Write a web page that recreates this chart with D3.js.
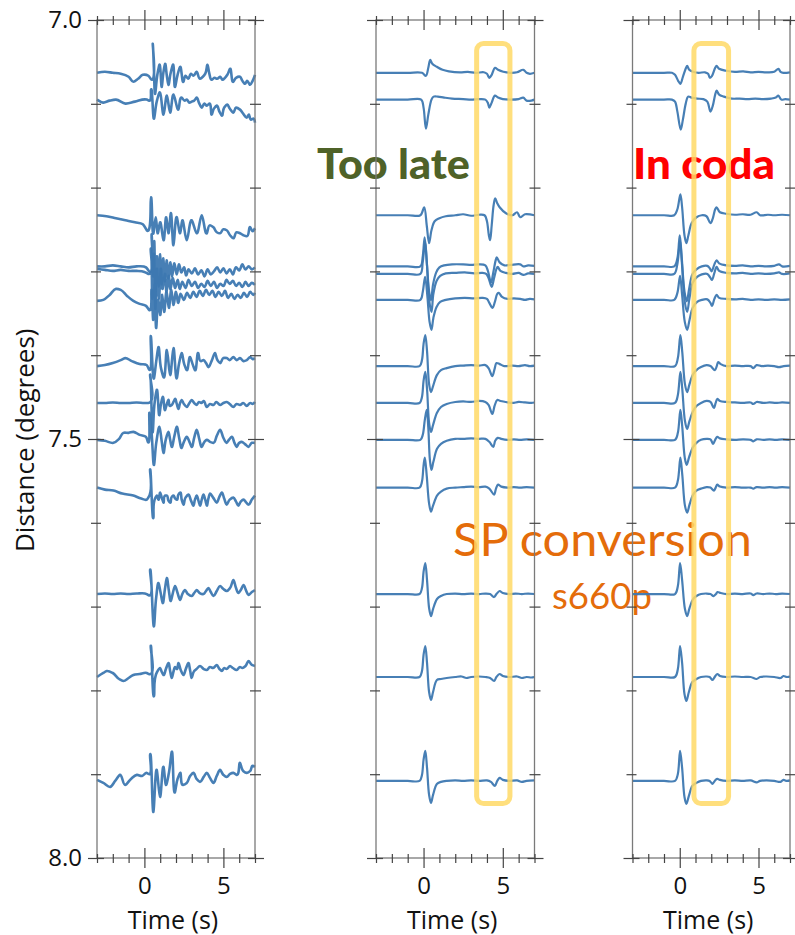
<!DOCTYPE html>
<html><head><meta charset="utf-8">
<script src="https://cdn.jsdelivr.net/npm/d3@7"></script>
<style>body{margin:0;background:#fff}svg{display:block}</style>
</head><body><svg id="chart" width="795" height="935"></svg>
<script>
// ---------- data ----------
const distances = [7.063,7.095,7.233,7.294,7.303,7.334,7.413,7.457,7.501,7.558,7.685,7.784,7.908];
const timeTicks = [-3,-2,-1,0,1,2,3,4,5,6,7];
const timeLabels = [0,5];
const distTicks = [7.0,7.1,7.2,7.3,7.4,7.5,7.6,7.7,7.8,7.9,8.0];
const distLabels = [7.0,7.5,8.0];
const panelTitles = ["Time (s)","Time (s)","Time (s)"];
// amplitude in counts, [time (s), amplitude]
const panel1Traces = [
 [[-3,0],[-2.5,1],[-2,0],[-1.5,-1],[-1,-4],[-0.7,-9],[-0.4,-6],[-0.1,-2],[0.25,-3],[0.4,-6],[0.53,29],[0.6,5],[0.68,-21],[0.82,-2],[0.95,8],[1.1,-14],[1.2,0],[1.31,9],[1.42,-3],[1.52,-12],[1.65,-1],[1.8,8],[1.94,-14],[2.1,-2],[2.26,6],[2.47,-9],[2.6,-3],[2.78,-6],[2.95,-1],[3.1,-3],[3.3,1],[3.52,-6],[3.7,-4],[3.85,-1],[3.99,8],[4.1,0],[4.26,-7],[4.45,-5],[4.6,-6],[4.8,-4],[4.95,-7],[5.1,-5],[5.25,-2],[5.42,4],[5.63,-9],[5.8,-5],[6.05,-4],[6.2,-8],[6.37,-11],[6.5,-8],[6.69,-12],[6.85,-8],[7,-2]],
 [[-3,0],[-2.6,-3],[-2.2,-1],[-1.8,0],[-1.2,-4],[-0.6,-2],[0.15,0],[0.3,-1],[0.42,10],[0.61,-19],[0.78,-2],[0.95,7],[1.21,-15],[1.42,4],[1.63,-13],[1.84,5],[2.15,-10],[2.36,2],[2.55,-1],[2.68,0],[2.85,-3],[2.99,-2],[3.15,-1],[3.31,2],[3.45,-3],[3.63,-8],[3.8,-4],[3.95,-6],[4.1,-4],[4.26,-15],[4.4,-9],[4.58,-6],[4.75,-12],[4.9,-16],[5.05,-8],[5.25,-5],[5.4,-9],[5.63,-13],[5.8,-8],[6.05,-10],[6.25,-14],[6.48,-18],[6.6,-15],[6.75,-20],[6.9,-19],[7,-23]],
 [[-3,0],[-2.4,-1],[-1.8,-3],[-1.2,-5],[-0.6,-7],[-0.1,-9],[0.15,-15],[0.42,18],[0.57,-18],[0.72,-2],[0.85,-18],[0.99,-7],[1.21,-25],[1.38,-2],[1.52,-18],[1.67,2],[1.84,-30],[2.05,-2],[2.26,-18],[2.4,-5],[2.68,-25],[2.99,-5],[3.31,-18],[3.63,0],[3.95,-18],[4.15,-10],[4.37,-12],[4.58,-17],[4.79,-18],[5.0,-14],[5.21,-15],[5.42,-20],[5.63,-23],[5.84,-17],[6.05,-18],[6.27,-20],[6.48,-21],[6.69,-12],[6.85,-16],[7,-13]],
 [[-3,0],[-2.5,0],[-2,1],[-1.5,0],[-1,-1],[-0.5,0],[0.1,-1],[0.3,-5],[0.45,32],[0.55,-10],[0.62,25],[0.7,-30],[0.8,10],[0.9,-20],[1.0,12],[1.1,-18],[1.2,8],[1.3,-15],[1.42,6],[1.52,-12],[1.65,4],[1.75,-10],[1.9,3],[2.05,-8],[2.2,2],[2.35,-6],[2.5,-1],[2.65,-9],[2.8,-3],[3.0,-7],[3.2,-2],[3.4,-8],[3.6,-4],[3.8,-10],[4.0,-3],[4.2,-8],[4.4,-5],[4.6,-1],[4.8,-6],[5.0,-2],[5.2,-7],[5.4,-3],[5.6,-8],[5.8,-1],[6.0,-4],[6.2,2],[6.4,-3],[6.6,0],[6.8,-3],[7,-1]],
 [[-3,5],[-2.5,4],[-2,3],[-1.5,4],[-1,3],[-0.5,3],[0,2],[0.25,0],[0.4,25],[0.5,-25],[0.6,20],[0.7,-35],[0.8,5],[0.92,-25],[1.05,5],[1.15,-15],[1.3,0],[1.4,-18],[1.55,-2],[1.65,-15],[1.8,-4],[1.95,-14],[2.1,-6],[2.25,-15],[2.4,-8],[2.6,-14],[2.8,-6],[3.0,-12],[3.2,-8],[3.4,-14],[3.6,-10],[3.8,-13],[4.0,-7],[4.2,-12],[4.4,-8],[4.6,-14],[4.8,-10],[5.0,-12],[5.2,-6],[5.4,-10],[5.6,-7],[5.8,-12],[6.0,-9],[6.2,-13],[6.4,-8],[6.6,-12],[6.8,-9],[7,-11]],
 [[-3,-1],[-2.6,0],[-2.2,5],[-1.8,11],[-1.5,10],[-1.1,4],[-0.7,-1],[-0.3,-4],[0.1,-6],[0.3,-10],[0.45,10],[0.55,-20],[0.65,15],[0.75,-28],[0.88,0],[1.0,-15],[1.12,5],[1.25,-12],[1.4,8],[1.55,-8],[1.7,10],[1.85,-5],[2.0,8],[2.15,-3],[2.3,6],[2.5,0],[2.7,7],[2.9,2],[3.1,8],[3.3,3],[3.5,9],[3.7,4],[3.9,10],[4.1,5],[4.3,9],[4.5,3],[4.7,8],[4.9,4],[5.1,9],[5.3,2],[5.5,6],[5.7,1],[5.9,5],[6.1,2],[6.3,7],[6.5,3],[6.7,8],[6.9,5],[7,7]],
 [[-3,0],[-2.5,1],[-2,3],[-1.5,6],[-1.22,8],[-0.8,5],[-0.3,2],[0.15,1],[0.28,-3],[0.4,30],[0.61,-12],[0.75,5],[0.89,19],[1.05,-2],[1.21,-11],[1.42,16],[1.63,-9],[1.84,18],[2.05,-12],[2.2,3],[2.36,13],[2.52,2],[2.68,-4],[2.89,9],[3.05,2],[3.2,-4],[3.41,13],[3.58,5],[3.74,6],[3.9,3],[4.05,-1],[4.25,5],[4.47,13],[4.62,6],[4.79,3],[5.0,8],[5.21,8],[5.4,6],[5.63,9],[5.84,6],[6.05,8],[6.27,5],[6.48,6],[6.7,9],[6.85,7],[7,8]],
 [[-3,0],[-2.5,0],[-2,0.5],[-1.5,0],[-1,0],[-0.5,0.5],[0,0],[0.25,0],[0.36,28],[0.53,-29],[0.66,2],[0.78,13],[0.95,-12],[1.06,0],[1.16,6],[1.31,-7],[1.42,-1],[1.52,3],[1.63,-3],[1.73,-2],[1.84,1],[1.94,4],[2.05,-1],[2.15,-6],[2.26,0],[2.36,3],[2.5,-1],[2.68,-4],[2.85,0],[2.99,3],[3.15,0],[3.31,-2],[3.45,1],[3.6,0],[3.75,2],[3.95,-4],[4.15,-1],[4.37,-2],[4.55,1],[4.79,-2],[5.0,0],[5.21,1],[5.4,-1],[5.63,-4],[5.84,-1],[6.05,-2],[6.25,0],[6.48,-3],[6.7,0],[6.85,-1],[7,1]],
 [[-3,0],[-2.5,-1],[-1.96,-3],[-1.6,1],[-1.33,7],[-1.0,7],[-0.7,8],[-0.3,5],[0.1,3],[0.22,-2],[0.32,27],[0.45,8],[0.61,-25],[0.75,-3],[0.95,13],[1.1,-2],[1.21,-13],[1.35,0],[1.52,8],[1.63,0],[1.73,-7],[1.9,4],[2.05,13],[2.2,2],[2.36,-8],[2.5,-2],[2.68,3],[2.85,-2],[2.99,-7],[3.15,2],[3.31,10],[3.47,1],[3.63,-7],[3.8,-2],[3.95,0],[4.15,-2],[4.37,-3],[4.58,4],[4.79,10],[5.0,2],[5.21,-3],[5.35,0],[5.53,3],[5.7,-3],[5.84,-7],[6.0,-3],[6.16,-2],[6.35,-4],[6.59,-7],[6.8,-3],[7,-3]],
 [[-3,0],[-2.5,-2],[-1.96,-3],[-1.4,-6],[-0.7,-8],[-0.2,-11],[0.15,-12],[0.25,-10],[0.36,18],[0.57,-30],[0.7,-10],[0.78,-8],[0.89,-12],[1.0,-5],[1.1,-10],[1.21,-15],[1.32,-8],[1.42,-8],[1.52,-13],[1.63,-15],[1.74,-9],[1.84,-8],[1.95,-11],[2.05,-12],[2.15,-7],[2.26,-5],[2.36,-12],[2.47,-17],[2.6,-10],[2.78,-7],[2.95,-13],[3.1,-18],[3.2,-12],[3.31,-8],[3.42,-13],[3.52,-18],[3.63,-12],[3.74,-7],[3.85,-12],[3.95,-18],[4.05,-11],[4.16,-6],[4.35,-10],[4.58,-15],[4.75,-9],[4.9,-5],[5.05,-11],[5.21,-17],[5.4,-12],[5.63,-10],[5.8,-14],[5.95,-18],[6.1,-14],[6.27,-12],[6.45,-15],[6.59,-17],[6.8,-12],[7,-8]],
 [[-3,0],[-2.5,0.5],[-2,0],[-1.5,0.5],[-1,0],[-0.5,0.5],[0.15,0],[0.25,-1],[0.36,24],[0.61,-32],[0.75,-3],[0.89,11],[1.03,1],[1.16,-9],[1.3,5],[1.42,16],[1.55,3],[1.67,-7],[1.8,1],[1.94,8],[2.1,1],[2.26,-6],[2.4,0],[2.57,4],[2.75,0],[2.99,-2],[3.15,1],[3.31,4],[3.5,1],[3.74,0],[3.9,3],[4.05,6],[4.2,2],[4.37,-2],[4.58,3],[4.79,8],[5.0,5],[5.21,3],[5.42,6],[5.63,14],[5.8,6],[5.95,1],[6.1,4],[6.27,9],[6.45,3],[6.59,-1],[6.8,2],[7,4]],
 [[-3,0],[-2.6,4],[-2.38,6],[-2.0,4],[-1.6,-2],[-1.33,-4],[-1.0,-1],[-0.7,2],[-0.3,3],[0.15,4],[0.28,3],[0.4,31],[0.61,-19],[0.8,5],[0.99,9],[1.1,5],[1.21,2],[1.36,8],[1.52,14],[1.63,6],[1.73,-1],[1.85,6],[1.94,10],[2.05,8],[2.15,14],[2.3,7],[2.47,2],[2.62,8],[2.78,14],[2.9,6],[2.99,-1],[3.15,6],[3.3,8],[3.52,11],[3.75,8],[3.95,7],[4.15,10],[4.35,9],[4.58,12],[4.75,8],[4.9,6],[5.05,9],[5.2,8],[5.42,11],[5.6,9],[5.84,7],[6.05,10],[6.2,9],[6.4,11],[6.59,16],[6.8,12],[7,11]],
 [[-3,1],[-2.6,-2],[-2.17,-6],[-1.85,0],[-1.54,6],[-1.22,-4],[-0.85,2],[-0.48,6],[-0.15,5],[0.15,8],[0.25,7],[0.36,26],[0.57,-31],[0.78,11],[0.99,-16],[1.21,14],[1.38,-4],[1.55,8],[1.73,29],[1.94,-11],[2.1,2],[2.26,8],[2.45,-4],[2.68,-2],[2.9,5],[3.1,8],[3.3,2],[3.52,-1],[3.75,4],[3.95,8],[4.15,3],[4.37,-2],[4.58,5],[4.79,11],[5.0,6],[5.21,4],[5.42,7],[5.63,8],[5.84,6],[6.05,18],[6.25,10],[6.48,8],[6.7,10],[6.85,15],[7,14]]
];
const panel2Traces = [
 [[-3,0],[-1,0],[-0.1,0],[0.15,-3],[0.3,5],[0.42,13],[0.55,9],[0.84,6],[1.2,3],[1.6,1.5],[2.3,0.5],[2.8,1],[3.3,0],[3.8,0.5],[4.0,-1],[4.15,-5],[4.3,-2],[4.51,5],[4.7,3],[5.03,1],[5.5,0],[5.9,0.5],[6.29,3],[6.5,0],[6.71,-1],[7,0]],
 [[-3,0],[-1,0],[-0.15,0],[0.0,-8],[0.15,-29],[0.3,-15],[0.5,0],[0.63,3],[0.9,3],[1.3,2],[1.8,1],[2.5,0.5],[3.0,0],[3.5,0.5],[3.9,0],[4.05,-3],[4.15,-8],[4.3,-3],[4.5,4],[4.7,2],[5.0,0.5],[5.5,0],[6.0,0.5],[6.29,2],[6.5,-1],[6.8,-1],[7,0]],
 [[-3,0],[-1,0],[-0.2,0],[0.04,8],[0.2,-10],[0.35,-28],[0.5,-15],[0.7,-6],[1.0,-3],[1.4,-1],[2.0,0],[2.5,1],[3.0,-0.5],[3.5,0.5],[3.85,0],[4.0,-6],[4.12,-20],[4.2,-25],[4.3,-10],[4.42,10],[4.52,17],[4.65,12],[4.8,8],[5.2,2],[5.6,0],[5.9,3],[6.1,-2],[6.4,1],[7,0]],
 [[-3,0],[-1,0],[-0.2,0],[-0.05,10],[0.07,29],[0.2,5],[0.35,-25],[0.47,-34],[0.6,-18],[0.8,-6],[1.0,-1],[1.3,1],[1.8,2],[2.5,2],[3.0,1.5],[3.5,2],[3.9,1],[4.05,-4],[4.26,-16],[4.4,-6],[4.55,6],[4.62,9],[4.8,4],[5.1,1],[5.5,1.5],[6.1,2],[6.3,0],[6.6,1],[7,0.5]],
 [[-3,0],[-1,0],[-0.2,0],[-0.05,12],[0.1,32],[0.22,8],[0.37,-28],[0.5,-38],[0.62,-20],[0.82,-7],[1.05,-2],[1.4,0.5],[2.0,1],[2.6,1.5],[3.2,0.5],[3.7,1],[3.95,0],[4.1,-4],[4.3,-13],[4.45,-4],[4.6,5],[4.68,7],[4.85,3],[5.2,1],[5.6,0],[6.0,1],[6.3,-1],[6.6,0.5],[7,0]],
 [[-3,0],[-1,0],[-0.2,0],[-0.05,8],[0.1,23],[0.25,2],[0.38,-22],[0.5,-30],[0.62,-18],[0.82,-7],[1.05,-2],[1.4,0],[2.0,1.5],[2.6,2],[3.2,1.5],[3.7,2],[4.0,1],[4.15,-3],[4.35,-8],[4.5,-2],[4.65,6],[4.75,7],[4.95,3],[5.3,1],[5.7,1.5],[6.1,1],[6.4,0],[6.7,1],[7,0.5]],
 [[-3,0],[-1,0],[-0.25,0],[-0.1,6],[0.0,22],[0.11,31],[0.22,15],[0.35,-18],[0.47,-26],[0.6,-20],[0.84,-9],[1.1,-4],[1.46,-2],[2.0,0],[2.5,0.5],[3.0,1],[3.5,0.5],[3.9,1],[4.1,-2],[4.34,-10],[4.48,-3],[4.6,3],[4.8,2],[5.1,0],[5.6,0.5],[6.0,0],[6.4,1],[6.7,0],[7,0.5]],
 [[-3,0],[-1,0],[-0.25,0],[-0.1,6],[0.0,22],[0.11,31],[0.22,14],[0.35,-20],[0.47,-29],[0.6,-22],[0.84,-10],[1.1,-4],[1.46,-1],[2.0,1],[2.5,1.5],[3.0,1],[3.5,2],[3.9,1],[4.1,-2],[4.34,-11],[4.48,-3],[4.65,3],[4.85,2],[5.2,1],[5.6,0],[6.0,1],[6.4,0.5],[6.8,0],[7,0.5]],
 [[-3,0],[-1,0],[-0.2,0],[-0.05,5],[0.08,20],[0.2,30],[0.3,12],[0.4,-20],[0.5,-30],[0.62,-22],[0.85,-9],[1.1,-4],[1.46,-1],[2.0,1],[2.5,1],[3.0,1.5],[3.5,1],[3.9,1],[4.15,-2],[4.4,-7],[4.52,-1],[4.68,2],[4.9,1],[5.3,0],[5.7,0.5],[6.1,0],[6.5,0.5],[7,0]],
 [[-3,0],[-1,0],[-0.25,0],[-0.1,6],[0.0,22],[0.08,30],[0.2,12],[0.35,-16],[0.47,-24],[0.6,-18],[0.85,-8],[1.1,-4],[1.46,-1],[2.0,0],[2.5,0.5],[3.0,1],[3.5,0.5],[3.9,1],[4.15,-1],[4.45,-7],[4.57,-1],[4.7,3],[4.9,1],[5.3,0],[5.7,0.5],[6.1,0],[6.5,0.5],[7,0]],
 [[-3,0],[-1,0],[-0.25,0],[-0.1,6],[0.0,22],[0.11,31],[0.22,14],[0.35,-14],[0.47,-22],[0.6,-15],[0.85,-5],[1.1,-2],[1.46,0],[2.0,0.5],[2.5,0],[3.0,0.5],[3.5,0],[3.9,0.5],[4.2,0],[4.45,-3],[4.6,0],[4.8,3],[5.0,1],[5.4,0],[5.8,0.5],[6.2,0],[6.6,0.5],[7,0]],
 [[-3,0],[-1,0],[-0.25,0],[-0.1,6],[0.0,22],[0.11,31],[0.22,14],[0.35,-15],[0.47,-23],[0.6,-15],[0.84,-3],[1.1,-2],[1.46,-1],[2.0,0],[2.4,0.5],[2.7,-1],[3.0,0],[3.5,0.5],[3.9,0],[4.2,-1],[4.45,-4],[4.6,0],[4.8,3],[5.0,1],[5.4,0],[5.9,0.5],[6.2,-1],[6.5,0],[6.8,-0.5],[7,0]],
 [[-3,0],[-1,0],[-0.25,0],[-0.1,6],[0.0,21],[0.11,30],[0.22,13],[0.35,-14],[0.47,-22],[0.6,-14],[0.84,-3],[1.1,-1],[1.46,0],[2.0,0.5],[2.5,0],[3.0,0.5],[3.5,0],[4.0,0.5],[4.25,-1],[4.5,-5],[4.65,0],[4.8,3],[5.0,1],[5.4,0],[5.9,0.5],[6.2,-1],[6.5,0],[7,0.5]]
];
const panel3Traces = [
 [[-3,0],[-1,0],[-0.5,0],[-0.3,-2],[-0.1,-8],[0.04,-11],[0.2,-4],[0.4,5],[0.47,7],[0.6,3],[0.85,1],[1.2,0],[1.6,0.5],[1.8,-1],[1.91,-5],[2.05,-3],[2.25,5],[2.34,7],[2.5,4],[2.97,2],[3.5,1],[4.03,1.5],[4.5,0.5],[5.0,1],[5.5,0.5],[6.0,1],[6.26,4],[6.4,1],[6.58,0],[7,0.5]],
 [[-3,0],[-1,0],[-0.5,0],[-0.3,-2],[-0.15,-12],[0.06,-30],[0.2,-20],[0.38,-4],[0.53,3],[0.75,2],[1.1,1],[1.5,0.5],[1.75,-2],[1.95,-12],[2.1,-6],[2.25,5],[2.34,9],[2.5,5],[2.8,3],[3.3,1],[3.8,1],[4.3,0.5],[4.8,1],[5.3,0.5],[5.8,1],[6.1,2],[6.26,4],[6.45,0],[6.7,0.5],[7,0]],
 [[-3,0],[-1,0],[-0.35,0],[-0.15,6],[0.04,21],[0.15,8],[0.3,-20],[0.42,-28],[0.55,-20],[0.75,-8],[1.06,-2],[1.4,0],[1.7,-1],[1.95,-8],[2.1,-3],[2.25,6],[2.34,8],[2.55,3],[2.97,1.5],[3.5,0.5],[4.0,1],[4.5,0.5],[4.88,3],[5.1,0],[5.6,0.5],[6.0,0],[6.5,0.5],[7,0]],
 [[-3,0],[-1,0],[-0.35,0],[-0.15,8],[0.0,31],[0.12,10],[0.3,-25],[0.45,-35],[0.6,-22],[0.8,-8],[1.06,-3],[1.4,0],[1.75,0.5],[1.91,-2],[2.02,-5],[2.2,2],[2.34,6],[2.5,3],[2.97,1],[3.5,0.5],[4.0,1],[4.5,0],[5.0,0.5],[5.5,0],[6.0,0.5],[6.3,2],[6.5,0],[7,0.5]],
 [[-3,0],[-1,0],[-0.35,0],[-0.15,10],[0.02,33],[0.14,10],[0.32,-28],[0.47,-38],[0.62,-24],[0.82,-9],[1.1,-3],[1.4,-0.5],[1.75,0],[1.95,-4],[2.05,-6],[2.2,1],[2.34,7],[2.5,3],[2.97,1],[3.5,0.5],[4.0,1],[4.5,0],[5.0,0.5],[5.5,0],[6.0,0.5],[6.3,1.5],[6.5,0],[7,0.5]],
 [[-3,0],[-1,0],[-0.35,0],[-0.15,7],[0.02,24],[0.15,5],[0.32,-22],[0.47,-30],[0.62,-20],[0.82,-8],[1.1,-2],[1.4,0],[1.75,0.5],[1.95,-3],[2.05,-6],[2.2,1],[2.34,5],[2.5,2],[2.97,1],[3.5,0.5],[4.0,1],[4.5,0],[5.0,0.5],[5.5,0],[6.0,0.5],[6.5,0],[7,0.5]],
 [[-3,0],[-1,0],[-0.3,0],[-0.12,8],[0.04,31],[0.16,14],[0.33,-18],[0.47,-26],[0.62,-18],[0.85,-8],[1.06,-4],[1.35,-1],[1.7,1],[1.95,0],[2.23,-4],[2.35,0],[2.44,4],[2.6,2],[2.97,0],[3.5,0.5],[4.0,0],[4.5,0],[4.67,-2],[4.88,1],[5.2,0],[5.6,0.5],[6.0,0],[6.3,-1],[6.6,0],[7,0.5]],
 [[-3,0],[-1,0],[-0.3,0],[-0.12,8],[0.04,31],[0.16,14],[0.33,-18],[0.47,-26],[0.62,-18],[0.85,-8],[1.06,-3],[1.35,0],[1.7,2],[1.95,1],[2.17,-5],[2.28,0],[2.38,4],[2.55,2],[2.97,1],[3.5,0.5],[4.0,0],[4.5,0.5],[4.67,-1],[4.88,1],[5.3,0],[5.7,0.5],[6.1,0],[6.5,0.5],[7,0]],
 [[-3,0],[-1,0],[-0.3,0],[-0.12,7],[0.04,30],[0.16,13],[0.32,-18],[0.44,-25],[0.6,-17],[0.85,-7],[1.06,-3],[1.35,0],[1.7,1],[1.95,0.5],[2.12,-4],[2.25,0],[2.38,3],[2.55,1.5],[2.97,0.5],[3.5,0],[4.0,0.5],[4.5,0],[4.67,-1.5],[4.88,0.5],[5.3,0],[5.7,0.5],[6.1,0],[6.5,0.5],[7,0]],
 [[-3,0],[-1,0],[-0.3,0],[-0.12,7],[0.04,30],[0.16,13],[0.33,-18],[0.47,-25],[0.62,-17],[0.85,-7],[1.06,-3],[1.35,-1],[1.7,0.5],[1.95,0],[2.17,-3],[2.28,0],[2.38,3],[2.55,1],[2.97,0],[3.5,0.5],[4.0,0],[4.5,0],[4.67,-1],[4.88,0.5],[5.3,0],[5.7,0.5],[6.1,0],[6.5,0.5],[7,0]],
 [[-3,0],[-1,0],[-0.3,0],[-0.12,8],[0.02,31],[0.15,14],[0.33,-15],[0.47,-22],[0.62,-14],[0.85,-5],[1.06,-2],[1.35,0],[1.7,0.5],[1.95,0],[2.15,-2],[2.3,0],[2.4,2],[2.6,1],[2.97,0],[3.5,0.5],[4.0,0],[4.5,0.5],[4.67,-1],[4.88,0.5],[5.3,0],[5.7,0.5],[6.1,0],[6.5,0.5],[7,0]],
 [[-3,0],[-1,0],[-0.3,0],[-0.12,8],[0.02,31],[0.15,14],[0.3,-17],[0.42,-24],[0.58,-15],[0.8,-5],[1.06,-2],[1.35,0],[1.7,0.5],[1.9,0],[2.08,-3],[2.22,0],[2.38,3],[2.55,1],[2.97,0],[3.5,0.5],[4.0,0],[4.5,0],[4.88,-2],[5.1,0],[5.5,0.5],[6.0,0],[6.4,-1],[6.58,1],[6.8,0],[7,0.5]],
 [[-3,0],[-1,0],[-0.3,0],[-0.12,7],[0.02,30],[0.15,13],[0.3,-16],[0.42,-23],[0.58,-15],[0.8,-5],[1.06,-2],[1.35,0],[1.7,0.5],[1.9,0],[2.08,-3],[2.22,0],[2.38,2],[2.55,1],[2.97,0],[3.5,0.5],[4.0,0],[4.5,0.5],[4.88,-1.5],[5.1,0],[5.5,0.5],[6.0,0],[6.4,-1],[6.58,1],[6.8,0],[7,0.5]]
];
// highlight windows (time range, s) for panels 2 and 3, and distance span
const windowTimes = [null,[3.35,5.45],[0.9,3.1]];
const windowDist = [7.028,7.935];
const annotations = [
 {text:"Too late", color:"#4F6228", weight:"bold", size:42, x:317, y:179, len:153},
 {text:"In coda", color:"#FF0000", weight:"bold", size:42, x:633, y:179, len:142},
 {text:"SP conversion", color:"#E46C0A", weight:"normal", size:47, x:453, y:556, len:299},
 {text:"s660p", color:"#E46C0A", weight:"normal", size:37, x:552, y:609, len:100}
];

// ---------- layout ----------
const svg = d3.select("#chart");
const yTop = 20, yBottom = 858;
const panelX = [[97,255],[376,534.5],[632.5,790]];
const AMP = 1/838; // degrees per amplitude count
const y = d3.scaleLinear().domain([7,8]).range([yTop,yBottom]);
const allTraces = [panel1Traces,panel2Traces,panel3Traces];
const FONT = "'Open Sans', 'Noto Sans', sans-serif";

const annG = svg.append("g");
annotations.forEach(a=>{
  annG.append("text").attr("x",a.x).attr("y",a.y)
    .attr("font-family","Lato, 'Open Sans', sans-serif").attr("font-weight",a.weight==="bold"?900:400)
    .attr("font-size",a.size).attr("fill",a.color)
    .attr("textLength",a.len).attr("lengthAdjust","spacingAndGlyphs").text(a.text);
});

panelX.forEach((px,i)=>{
  const x = d3.scaleLinear().domain([-3,7]).range(px);
  const g = svg.append("g");
  const line = d3.line().x(p=>x(p[0]))
    .curve(i===0 ? d3.curveCatmullRom.alpha(1) : d3.curveCatmullRom.alpha(0.5));
  g.append("g").selectAll("path").data(allTraces[i]).join("path")
    .attr("d",(tr,k)=> line.y(p=>y(distances[k]-p[1]*AMP))(tr))
    .attr("fill","none").attr("stroke","#3D78B1")
    .attr("stroke-width", i===0?2.6:2.2).attr("stroke-linejoin","round").attr("stroke-opacity",0.95);

  g.append("rect").attr("x",px[0]).attr("y",yTop).attr("width",px[1]-px[0]).attr("height",yBottom-yTop)
    .attr("fill","none").attr("stroke","#7a7a7a").attr("stroke-width",1.3);

  const isMajorT = t => t===0 || t===5;
  const isMajorD = d => distLabels.includes(d);
  const xb = g.append("g").attr("transform",`translate(0,${yBottom})`)
    .call(d3.axisBottom(x).tickValues(timeTicks).tickFormat(t=>timeLabels.includes(t)?String(t):""));
  xb.select(".domain").remove();
  xb.selectAll(".tick line").attr("y1",t=>isMajorT(t)?-10:-4).attr("y2",t=>isMajorT(t)?10:5)
    .attr("stroke","#444").attr("stroke-width",1.2);
  xb.selectAll(".tick text").attr("y",19).attr("dy","0.71em").attr("font-size",24)
    .attr("font-family",FONT).attr("fill","#111");
  const xt = g.append("g").attr("transform",`translate(0,${yTop})`)
    .call(d3.axisTop(x).tickValues(timeTicks).tickFormat(""));
  xt.select(".domain").remove();
  xt.selectAll(".tick line").attr("y1",t=>isMajorT(t)?-10:-4).attr("y2",t=>isMajorT(t)?10:5)
    .attr("stroke","#444").attr("stroke-width",1.2);
  const yl = g.append("g").attr("transform",`translate(${px[0]},0)`)
    .call(d3.axisLeft(y).tickValues(distTicks).tickFormat(d=> (i===0 && isMajorD(d))? d.toFixed(1):""));
  yl.select(".domain").remove();
  yl.selectAll(".tick line").attr("x1",d=>isMajorD(d)?-9:-6).attr("x2",d=>isMajorD(d)?7:4)
    .attr("stroke","#444").attr("stroke-width",1.2);
  yl.selectAll(".tick text").attr("x",-15).attr("font-size",24).attr("font-family",FONT).attr("fill","#111");
  const yr = g.append("g").attr("transform",`translate(${px[1]},0)`)
    .call(d3.axisRight(y).tickValues(distTicks).tickFormat(""));
  yr.select(".domain").remove();
  yr.selectAll(".tick line").attr("x1",d=>isMajorD(d)?-7:-5).attr("x2",d=>isMajorD(d)?9:6)
    .attr("stroke","#444").attr("stroke-width",1.2);

  g.append("text").attr("x",(px[0]+px[1])/2-3).attr("y",929).attr("text-anchor","middle")
    .attr("font-size",25).attr("font-family",FONT).attr("fill","#111").text(panelTitles[i]);

  if (windowTimes[i]) {
    const [t0,t1] = windowTimes[i];
    g.append("rect").attr("x",x(t0)).attr("y",y(windowDist[0]))
      .attr("width",x(t1)-x(t0)).attr("height",y(windowDist[1])-y(windowDist[0]))
      .attr("rx",7).attr("fill","none").attr("stroke","#FFD966").attr("stroke-opacity",0.85)
      .attr("stroke-width",5);
  }
});

svg.append("text").attr("transform","translate(34,552) rotate(-90)")
  .attr("font-size",26).attr("font-family",FONT).attr("fill","#111").text("Distance (degrees)");
</script></body></html>
